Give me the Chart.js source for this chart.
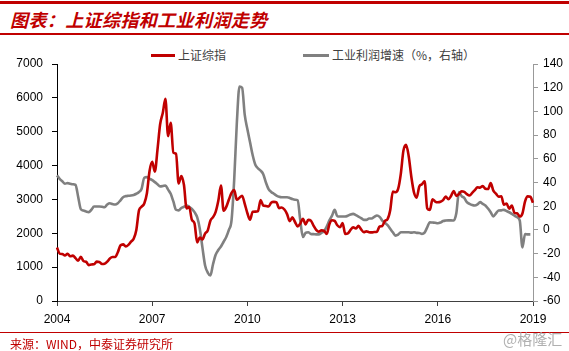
<!DOCTYPE html>
<html>
<head>
<meta charset="utf-8">
<script src="https://cdn.jsdelivr.net/npm/chart.js@4.4.1/dist/chart.umd.min.js"></script>
<style>
  body { margin: 0; width: 569px; height: 351px; background: #fff; position: relative; overflow: hidden; font-family: "Noto Sans CJK SC", sans-serif; }
  .bar { position: absolute; left: 0; width: 569px; background: #c00000; }
  .title { position: absolute; left: 10px; top: 7px; color: #c00000; font-size: 18px; font-weight: bold; font-style: italic; line-height: 24px; letter-spacing: 0.4px; }
  .legend { position: absolute; top: 47px; font-size: 12px; color: #404040; line-height: 16px; }
  .legend span.swatch { position: absolute; top: 7px; height: 3px; }
  .source { position: absolute; left: 10px; top: 336px; color: #c00000; font-size: 12px; line-height: 16px; }
  .mark { position: absolute; left: 503px; top: 330px; color: #b0b0b0; font-size: 15px; line-height: 18px; }
  #wrap { position: absolute; left: 0; top: 40px; width: 569px; height: 300px; }
</style>
</head>
<body>
<div class="bar" style="top:1px;height:3px"></div>
<div class="title">图表：上证综指和工业利润走势</div>
<div class="bar" style="top:33px;height:2px"></div>

<div class="legend" style="left:151px"><span class="swatch" style="left:0;width:24px;background:#c00000"></span><span style="margin-left:27px">上证综指</span></div>
<div class="legend" style="left:303px"><span class="swatch" style="left:0;width:26px;background:#808080"></span><span style="margin-left:29px">工业利润增速（%，右轴）</span></div>

<div id="wrap"><canvas id="chart"></canvas></div>

<div class="bar" style="top:332px;height:1px"></div>
<div class="source">来源：WIND，中泰证券研究所</div>
<div class="mark">@格隆汇</div>

<script>
// months from 2004-05 to 2019-05
const months = [];
for (let y = 2004; y <= 2019; y++) {
    for (let m = 1; m <= 12; m++) {
        if ((y === 2004 && m < 5) || (y === 2019 && m > 5)) continue;
        months.push(y + '-' + (m < 10 ? '0' + m : m));
    }
}

const yearLabels = ['2004', '2007', '2010', '2013', '2016', '2019'];

// 上证综指 (monthly)
const shIndex = [
    1580, 1399, 1386, 1342, 1396, 1320, 1340, 1266,
    1191, 1306, 1181, 1159, 1060, 1080, 1083, 1162, 1155, 1092, 1099, 1161,
    1258, 1299, 1298, 1440, 1641, 1672, 1612, 1658, 1752, 1837, 2099, 2675,
    2786, 2881, 3183, 3841, 4109, 3820, 4471, 5219, 5552, 5970, 4871, 5262,
    4383, 4348, 3473, 3693, 3433, 2736, 2775, 2397, 2293, 1729, 1871, 1821,
    1991, 2082, 2373, 2477, 2633, 2959, 3412, 2667, 2779, 2996, 3195, 3277,
    2989, 3051, 3110, 2870, 2592, 2398, 2638, 2639, 2656, 2979, 2820, 2808,
    2790, 2905, 2928, 2911, 2743, 2762, 2701, 2567, 2359, 2469, 2333, 2199,
    2292, 2428, 2263, 2397, 2373, 2225, 2103, 2047, 2086, 2069, 1980, 2269,
    2385, 2366, 2237, 2178, 2301, 1979, 1994, 2098, 2175, 2141, 2220, 2116,
    2033, 2056, 2033, 2026, 2039, 2048, 2202, 2217, 2364, 2420, 2683, 3235,
    3210, 3310, 3748, 4441, 4612, 4277, 3664, 3206, 3053, 3383, 3446, 3539,
    2738, 2688, 3004, 2938, 2917, 2930, 2979, 3085, 3005, 3100, 3250, 3104,
    3159, 3242, 3223, 3155, 3117, 3192, 3273, 3361, 3349, 3393, 3317, 3307,
    3481, 3259, 3169, 3082, 3095, 2847, 2876, 2725, 2821, 2603, 2588, 2494,
    2585, 2941, 3091, 3078, 2899
];

// 工业利润增速 (%, right axis)
const profitGrowth = [
    46, 43, 41, 39, 39.5, 39, 38.5, 38,
    28, 17.5, 16.3, 15.5, 15, 17, 19.7, 19.7, 19.7, 19.5, 19.1, 21.5,
    22.5, 21.8, 21.4, 22.5, 25, 27.6, 28.5, 28.8, 29, 29.5, 30.5, 32,
    34.7, 44, 44.5, 43.2, 42, 40.3, 38.5, 36.7, 37, 37.5, 34, 30.5,
    24, 17, 16.5, 18.5, 19.5, 20.6, 19.5, 17.8, 15, 10.7, 1, -15,
    -30, -36, -38.5, -29, -21, -17, -14, -10, -6, 0, 8, 42,
    90, 121, 120, 97, 85, 74, 63, 55, 52, 50, 47, 40,
    34.5, 32, 30.5, 29, 28, 27.6, 27.6, 27.6, 27, 26, 25.5, 25,
    8, -6, -2.5, -2, -3.4, -3.6, -3.8, -3.8, -2.5, -1, 2.8, 8,
    12, 16.9, 11.5, 11.3, 11.3, 11.3, 12, 13, 13.5, 12.5, 11.3, 10,
    8.5, 8.5, 9.6, 9.6, 11, 12.1, 11, 7.9, 6, 4, 1, -2,
    -4.8, -4, -2, -2, -2, -2, -2.3, -2, -2.5, -2.6, -3.4, -2.3,
    2.2, 6.4, 6.2, 6, 5.6, 6.2, 7.5, 7.9, 8, 8, 7.9, 14,
    31.9, 28.5, 27, 23.4, 22, 21, 20.6, 21.5, 23.4, 22, 20.6, 18,
    14.9, 11.3, 14, 16.3, 16.5, 16.9, 16, 14.9, 13.5, 12, 10.7, 7.9,
    -14.8, -3.4, -3.8, -3.8, null
];

const tickFont = { family: '"Liberation Sans", Arial, sans-serif', size: 12 };

new Chart(document.getElementById('chart'), {
    type: 'line',
    data: {
        labels: months,
        datasets: [{
            label: '上证综指',
            data: shIndex,
            borderColor: '#c00000',
            borderWidth: 2.6,
            pointRadius: 0,
            cubicInterpolationMode: 'monotone',
            yAxisID: 'y'
        }, {
            label: '工业利润增速（%，右轴）',
            data: profitGrowth,
            borderColor: '#808080',
            borderWidth: 2.6,
            pointRadius: 0,
            cubicInterpolationMode: 'monotone',
            yAxisID: 'y1'
        }]
    },
    options: {
        responsive: true,
        maintainAspectRatio: false,
        animation: false,
        layout: { padding: { top: 24, right: 0, bottom: 0, left: 0 } },
        plugins: {
            legend: { display: false },
            tooltip: { enabled: false }
        },
        scales: {
            x: {
                type: 'category',
                offset: false,
                border: { color: '#404040', width: 1 },
                grid: { drawOnChartArea: false, drawTicks: true, tickLength: 5, color: '#404040' },
                ticks: {
                    autoSkip: false,
                    maxRotation: 0,
                    padding: 6,
                    color: '#000',
                    font: tickFont,
                    callback: function (value, index) {
                        return index % 36 === 0 ? yearLabels[index / 36] : null;
                    }
                },
                afterFit: function (scale) { scale.height = 39; }
            },
            y: {
                position: 'left',
                min: 0,
                max: 7000,
                border: { color: '#000', width: 1 },
                grid: { drawOnChartArea: false, drawTicks: true, tickLength: 5, color: '#000' },
                ticks: {
                    stepSize: 1000, padding: 9, color: '#000', font: tickFont,
                    callback: function (value) { return String(value); }
                },
                afterFit: function (scale) { scale.width = 57; }
            },
            y1: {
                position: 'right',
                min: -60,
                max: 140,
                border: { color: '#999', width: 1 },
                grid: { drawOnChartArea: false, drawTicks: true, tickLength: 5, color: '#999' },
                ticks: { stepSize: 20, padding: 5, color: '#000', font: tickFont },
                afterFit: function (scale) { scale.width = 36; }
            }
        }
    }
});
</script>
</body>
</html>
